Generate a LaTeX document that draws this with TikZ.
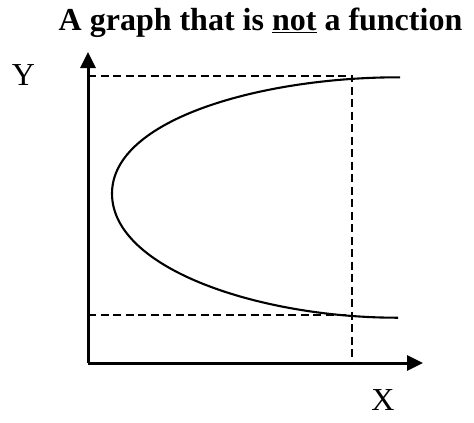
\documentclass[tikz,border=0pt]{standalone}
\usepackage{fontspec}
\setmainfont{Liberation Serif}
\usetikzlibrary{arrows.meta}
\tikzset{
  axis/.style={line width=3pt, -{Triangle[length=16pt,width=15pt]}},
  guide/.style={line width=2pt, dash pattern=on 8pt off 4.5pt},
  curve/.style={line width=2.1pt},
  lbl/.style={font=\fontsize{32}{36}\selectfont, inner sep=0pt}
}
\begin{document}
\begin{tikzpicture}[x=1pt,y=-1pt]
\useasboundingbox (0,0) rectangle (474,423);
\node[font=\bfseries\fontsize{32}{36}\selectfont, anchor=base, inner sep=0pt] (title) at (260.5,30) {A graph that is \underline{not} a function};
\coordinate (o) at (88,363);
\coordinate (ytip) at (88,52);
\coordinate (xtip) at (423,363);
\coordinate (ytop) at (88,75.7);
\coordinate (ybot) at (88,315);
\coordinate (ctop) at (352,75.7);
\coordinate (cbot) at (352,315);
\coordinate (xmark) at (352,363);
\draw[guide] (ytop) -- (ctop) -- (xmark);
\draw[guide] (ybot) -- (cbot);
\draw[curve] (400,77.3) .. controls (265,77) and (112,118) .. (112,193.5)
  .. controls (112,270) and (263,318) .. (398,317.7);
\draw[axis] (o) -- (ytip);
\draw[axis] (o) -- (xtip);
\node[lbl] (ylab) at (23.5,75) {Y};
\node[lbl] (xlab) at (383,400.5) {X};
\end{tikzpicture}
\end{document}
